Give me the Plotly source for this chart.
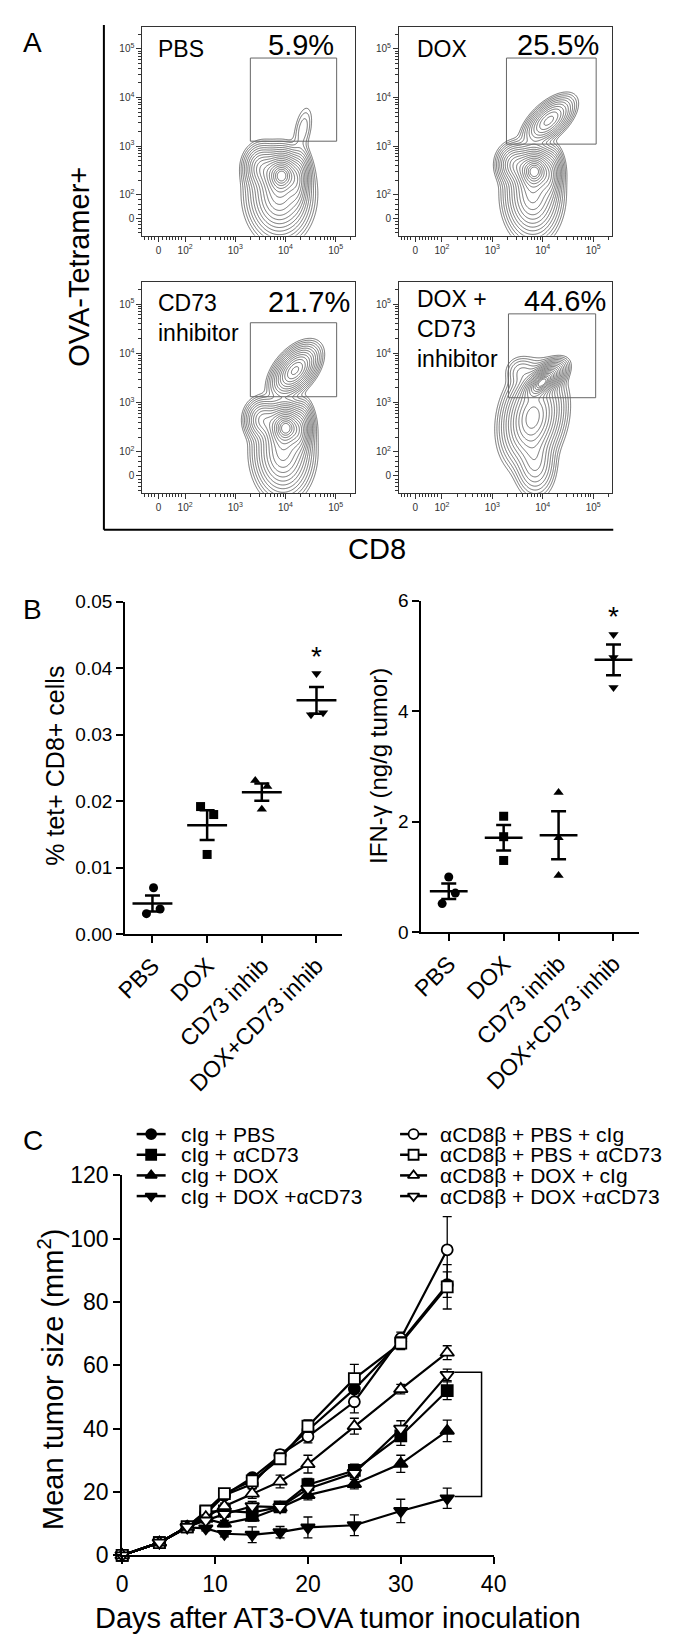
import numpy as np
import plotly.graph_objects as go

W, H = 680, 1641
FONT = "Liberation Sans, Arial, Helvetica, sans-serif"

# ---------------- Panel A: flow cytometry, CD8 vs OVA-tetramer (decade units) ----------------
flow_names = ["PBS", "DOX", "CD73<br>inhibitor", "DOX +<br>CD73<br>inhibitor"]
flow_pct = ["5.9%", "25.5%", "21.7%", "44.6%"]
# populations: (CD8 centre, tetramer centre, spread CD8, spread tet, correlation, weight)
pop_pbs = [(3.93, 2.42, 0.18, 0.20, 0.0, 1.00), (3.88, 2.00, 0.25, 0.36, 0.0, 0.50),
           (3.52, 2.55, 0.15, 0.20, 0.0, 0.25), (4.25, 2.25, 0.10, 0.28, 0.2, 0.25),
           (4.35, 3.35, 0.10, 0.25, 0.4, 0.02)]
pop_dox = [(3.84, 2.50, 0.18, 0.20, 0.0, 1.00), (3.80, 2.00, 0.22, 0.36, 0.0, 0.45),
           (3.45, 2.62, 0.15, 0.18, 0.0, 0.25), (4.15, 2.35, 0.10, 0.25, 0.2, 0.20),
           (4.12, 3.52, 0.20, 0.20, 0.6, 0.35)]
pop_cd73 = [(4.01, 2.51, 0.18, 0.20, 0.0, 1.00), (3.95, 2.00, 0.23, 0.36, 0.0, 0.45),
            (3.55, 2.65, 0.15, 0.18, 0.0, 0.25), (4.30, 2.40, 0.10, 0.25, 0.2, 0.25),
            (4.19, 3.65, 0.19, 0.21, 0.5, 0.55)]
pop_combo = [(4.00, 3.42, 0.17, 0.16, 0.6, 1.00), (3.80, 2.70, 0.24, 0.38, 0.2, 0.55),
             (3.85, 1.80, 0.17, 0.30, 0.0, 0.12), (3.58, 3.62, 0.15, 0.15, 0.0, 0.03)]
flow_pops = [pop_pbs, pop_dox, pop_cd73, pop_combo]
gate_cd8 = [(3.30, 5.02), (3.28, 5.06), (3.30, 5.02), (3.32, 5.05)]
gate_tet = [(3.10, 4.81), (3.04, 4.81), (3.12, 4.62), (3.10, 4.80)]
decade_vals = [1.47, 2, 3, 4, 5]
decade_vals_y = [1.52, 2, 3, 4, 5]
decade_text = ["0", "10<sup>2</sup>", "10<sup>3</sup>", "10<sup>4</sup>", "10<sup>5</sup>"]

# ---------------- Panel B ----------------
groups = ["PBS", "DOX", "CD73 inhib", "DOX+CD73 inhib"]
b_symbols = ["circle", "square", "triangle-up", "triangle-down"]
tet_values = [[0.0070, 0.0031, 0.0038], [0.0192, 0.0180, 0.0120],
              [0.0231, 0.0222, 0.0188], [0.0392, 0.0330, 0.0333]]
tet_jitter = [[0.02, -0.11, 0.14], [-0.12, 0.12, 0.0], [-0.12, 0.10, 0.0], [0.0, -0.10, 0.12]]
ifn_values = [[1.00, 0.52, 0.71], [2.10, 1.73, 1.30], [2.53, 1.71, 1.03], [5.39, 4.97, 4.43]]
ifn_jitter = [[0.0, -0.12, 0.12], [0.0, 0.0, 0.0], [0.0, 0.0, 0.0], [0.0, 0.0, 0.0]]

# ---------------- Panel C ----------------
days = [0, 4, 7, 9, 11, 14, 17, 20, 25, 30, 35]
c_names = ["cIg + PBS", "cIg + \u03b1CD73", "cIg + DOX", "cIg + DOX +\u03b1CD73",
           "\u03b1CD8\u03b2 + PBS + cIg", "\u03b1CD8\u03b2 + PBS + \u03b1CD73",
           "\u03b1CD8\u03b2 + DOX + cIg", "\u03b1CD8\u03b2 + DOX +\u03b1CD73"]
c_means = [
    [0, 4.0, 9.0, 13.5, 19.0, 24.5, 31.5, 39.5, 52.5, 67.5, 85.5],
    [0, 4.0, 9.0, 13.7, 14.0, 13.5, 15.3, 22.3, 26.8, 37.7, 52.0],
    [0, 4.0, 8.8, 11.5, 10.0, 11.8, 15.0, 19.0, 22.5, 28.9, 39.3],
    [0, 4.0, 8.8, 8.5, 6.8, 6.5, 7.3, 8.8, 9.5, 14.0, 18.0],
    [0, 4.0, 9.0, 13.0, 19.0, 22.5, 31.8, 37.5, 48.5, 68.5, 96.5],
    [0, 4.0, 9.0, 14.0, 19.5, 23.5, 30.5, 40.8, 55.8, 67.0, 84.8],
    [0, 4.0, 9.0, 12.0, 15.5, 19.5, 23.3, 28.8, 40.8, 52.5, 64.0],
    [0, 4.0, 9.0, 11.0, 13.0, 15.5, 15.2, 21.0, 26.0, 40.0, 57.0],
]
c_sem = [
    [0, 0.3, 0.5, 0.8, 1.0, 1.2, 1.5, 2.0, 3.0, 2.0, 4.0],
    [0, 0.3, 0.5, 0.8, 1.0, 1.0, 1.2, 2.0, 2.0, 3.0, 2.8],
    [0, 0.3, 0.5, 0.8, 1.0, 1.0, 1.2, 1.5, 1.5, 2.7, 3.4],
    [0, 0.3, 0.5, 0.8, 1.0, 2.5, 1.8, 3.3, 3.3, 3.7, 3.2],
    [0, 0.3, 0.5, 0.8, 1.0, 1.2, 1.5, 2.0, 3.5, 2.0, 10.5],
    [0, 0.3, 0.5, 0.8, 1.0, 1.2, 1.5, 2.0, 4.5, 2.0, 7.0],
    [0, 0.3, 0.5, 0.8, 1.0, 1.5, 2.0, 2.8, 2.5, 1.5, 2.2],
    [0, 0.3, 0.5, 0.8, 1.0, 1.5, 1.5, 2.5, 1.5, 2.5, 1.8],
]
c_symbols = ["circle", "square", "triangle-up", "triangle-down"] * 2
c_open = [False] * 4 + [True] * 4

# =====================================================================
def pxx(v):
    return v / W


def pxy(v):
    return 1 - v / H


fig = go.Figure()
annotations = []
shapes = []


def text(x, y, s, size, xanchor="center", yanchor="middle", angle=0, align="center"):
    annotations.append(dict(x=pxx(x), y=pxy(y), xref="paper", yref="paper", text=s,
                            showarrow=False, font=dict(size=size, family=FONT, color="black"),
                            xanchor=xanchor, yanchor=yanchor, textangle=angle, align=align))


layout = dict(width=W, height=H, margin=dict(l=0, r=0, t=0, b=0), paper_bgcolor="white",
              plot_bgcolor="rgba(0,0,0,0)", showlegend=False,
              font=dict(family=FONT, color="black"))

# ---------- Panel A ----------
A_boxes = [(128, 348, 6, 218), (394, 615, 6, 218), (128, 348, 265, 480), (394, 615, 265, 480)]
gx = np.arange(1.0, 5.6, 0.015)
gy = np.arange(0.6, 5.7, 0.015)
GX, GY = np.meshgrid(gx, gy)

minor_x = [1.2, 1.26, 1.32, 1.38, 1.55, 1.62, 1.68, 1.74, 1.8, 1.86, 1.92]
minor_y = [1.22, 1.3, 1.38, 1.45, 1.6, 1.7, 1.8, 1.9]
for n in (2, 3, 4):
    for k in range(2, 10):
        minor_x.append(n + np.log10(k))
        minor_y.append(n + np.log10(k))
minor_x.append(5 + np.log10(2))
minor_y += [5 + np.log10(2), 5 + np.log10(3)]

DEPTH = 2.6  # decades of density shown by the contour set
for i, (x0, x1, t, b) in enumerate(A_boxes):
    sx = "" if i == 0 else str(i + 1)
    Z = np.zeros_like(GX)
    for cx, cy, ssx, ssy, rho, w in flow_pops[i]:
        dx = (GX - cx) / ssx
        dy = (GY - cy) / ssy
        q = (dx * dx - 2 * rho * dx * dy + dy * dy) / (1 - rho * rho)
        Z += w * np.exp(-0.5 * q)
    L = np.log10(Z + 1e-12)
    R = np.sqrt(np.clip(L.max() - L, 0, None))  # evenly spaced rings
    fig.add_trace(go.Contour(x=gx, y=gy, z=R, xaxis="x" + sx, yaxis="y" + sx,
                             contours=dict(coloring="lines", start=0.2, end=np.sqrt(DEPTH), size=0.08),
                             line=dict(width=0.7, smoothing=1.0),
                             colorscale=[[0, "#383838"], [1, "#383838"]], showscale=False,
                             hoverinfo="skip"))
    axstyle = dict(showline=True, mirror=True, linecolor="#333", linewidth=1.2, ticks="outside",
                   ticklen=5, tickwidth=1, tickcolor="#333", showgrid=False, zeroline=False,
                   tickfont=dict(size=10, color="#333", family=FONT), fixedrange=True)
    layout["xaxis" + sx] = dict(domain=[pxx(x0), pxx(x1)], range=[1.15, 5.38], anchor="y" + sx,
                                tickmode="array", tickvals=decade_vals, ticktext=decade_text,
                                minor=dict(tickmode="array", tickvals=minor_x, ticks="outside",
                                           ticklen=3, tickcolor="#333", tickwidth=1), **axstyle)
    layout["yaxis" + sx] = dict(domain=[pxy(b), pxy(t)], range=[1.16, 5.45], anchor="x" + sx,
                                tickmode="array", tickvals=decade_vals_y, ticktext=decade_text,
                                minor=dict(tickmode="array", tickvals=minor_y, ticks="outside",
                                           ticklen=3, tickcolor="#333", tickwidth=1), **axstyle)
    shapes.append(dict(type="rect", xref="x" + sx, yref="y" + sx, x0=gate_cd8[i][0], x1=gate_cd8[i][1],
                       y0=gate_tet[i][0], y1=gate_tet[i][1], line=dict(color="#666", width=1)))

# A labels
text(142, 13, flow_names[0], 23, "left", "top", align="left")
text(410, 13, flow_names[1], 23, "left", "top", align="left")
text(142, 271, flow_names[2], 23, "left", "top", align="left")
text(410, 267, flow_names[3], 23, "left", "top", align="left")
text(256, 24, flow_pct[0], 29, "left")
text(514, 24, flow_pct[1], 29, "left")
text(256, 286, flow_pct[2], 29, "left")
text(521, 284, flow_pct[3], 29, "left")
text(14, 22, "A", 28)
text(62, 250, "OVA-Tetramer+", 29, angle=-90)
text(371, 537, "CD8", 29)
shapes.append(dict(type="line", xref="paper", yref="paper", x0=pxx(88), x1=pxx(88), y0=pxy(4), y1=pxy(517),
                   line=dict(color="black", width=2)))
shapes.append(dict(type="line", xref="paper", yref="paper", x0=pxx(88), x1=pxx(616), y0=pxy(517), y1=pxy(517),
                   line=dict(color="black", width=2)))

# ---------- Panel B ----------
def b_panel(ax, values, jitter, dom_x, dom_y, yrange, ytickvals, yfmt, mean_len):
    for g in range(4):
        fig.add_trace(go.Scatter(x=[g + j for j in jitter[g]], y=values[g], mode="markers",
                                 marker=dict(symbol=b_symbols[g], size=9, color="black"),
                                 xaxis="x" + ax, yaxis="y" + ax, cliponaxis=False, hoverinfo="skip"))
    means = [float(np.mean(v)) for v in values]
    sems = [float(np.std(v, ddof=1) / np.sqrt(len(v))) for v in values]
    fig.add_trace(go.Scatter(x=list(range(4)), y=means, mode="markers",
                             marker=dict(symbol="line-ew-open", size=mean_len, color="black",
                                         line=dict(width=2.5, color="black")),
                             error_y=dict(type="data", array=sems, width=7.5, thickness=2.5, color="black"),
                             xaxis="x" + ax, yaxis="y" + ax, cliponaxis=False, hoverinfo="skip"))
    common = dict(showline=True, linecolor="black", linewidth=2, ticks="outside", ticklen=7,
                  tickwidth=2, tickcolor="black", showgrid=False, zeroline=False, fixedrange=True)
    layout["xaxis" + ax] = dict(domain=dom_x, range=[-0.5, 3.47], anchor="y" + ax, tickmode="array",
                                tickvals=list(range(4)), ticktext=groups, tickangle=-45,
                                tickfont=dict(size=23, family=FONT, color="black"), **common)
    layout["yaxis" + ax] = dict(domain=dom_y, range=yrange, anchor="x" + ax, tickmode="array",
                                tickvals=ytickvals, tickformat=yfmt,
                                tickfont=dict(size=19, family=FONT, color="black"), **common)


b_panel("5", tet_values, tet_jitter, [pxx(110), pxx(335)], [pxy(928), pxy(590)], [0, 0.05],
        [0, 0.01, 0.02, 0.03, 0.04, 0.05], ".2f", 28.5)
b_panel("6", ifn_values, ifn_jitter, [pxx(417), pxx(643)], [pxy(926), pxy(589)], [0, 6],
        [0, 2, 4, 6], "d", 27)
text(14, 598, "B", 28)
text(37, 757, "% tet+ CD8+ cells", 25, angle=-90)
text(372, 757, "IFN-\u03b3 (ng/g tumor)", 24, angle=-90)
annotations.append(dict(x=3, y=0.0418, xref="x5", yref="y5", text="*", showarrow=False,
                        font=dict(size=28, family=FONT), xanchor="center", yanchor="middle"))
annotations.append(dict(x=3, y=5.72, xref="x6", yref="y6", text="*", showarrow=False,
                        font=dict(size=28, family=FONT), xanchor="center", yanchor="middle"))

# ---------- Panel C ----------
for s in range(8):
    fill = "white" if c_open[s] else "black"
    size = 11 if c_symbols[s] in ("circle", "square") else 12
    fig.add_trace(go.Scatter(x=days, y=c_means[s], mode="lines+markers",
                             line=dict(color="black", width=2.2),
                             marker=dict(symbol=c_symbols[s], size=size, color=fill,
                                         line=dict(color="black", width=1.8)),
                             error_y=dict(type="data", array=c_sem[s], width=4.5, thickness=1.3, color="black"),
                             xaxis="x7", yaxis="y7", cliponaxis=False, hoverinfo="skip"))
ccommon = dict(showline=True, linecolor="black", linewidth=2, ticks="outside", ticklen=7, tickwidth=2,
               tickcolor="black", showgrid=False, zeroline=False, fixedrange=True,
               tickfont=dict(size=23, family=FONT, color="black"))
layout["xaxis7"] = dict(domain=[pxx(107), pxx(492)], range=[0, 40], anchor="y7", tickmode="array",
                        tickvals=[0, 10, 20, 30, 40], **ccommon)
layout["yaxis7"] = dict(domain=[pxy(1559), pxy(1173)], range=[0, 120], anchor="x7", tickmode="array",
                        tickvals=[0, 20, 40, 60, 80, 100, 120], **ccommon)
# significance bracket between the two DOX + aCD73 groups at the last day
top_v = c_means[7][-1] + 0.8
bot_v = c_means[3][-1] + 0.6
shapes.append(dict(type="path", xref="x7", yref="y7",
                   path=f"M 35.8 {top_v} L 38.7 {top_v} L 38.7 {bot_v} L 35.8 {bot_v}",
                   line=dict(color="black", width=1.5)))
annotations.append(dict(x=40.7, y=48, xref="x7", yref="y7", text="*", showarrow=False,
                        font=dict(size=28, family=FONT), xanchor="center", yanchor="middle"))
text(15, 1138, "C", 28)
text(33, 1380, "Mean tumor size (mm<sup>2</sup>)", 29, angle=-90)
text(331, 1623, "Days after AT3-OVA tumor inoculation", 29)

# legend drawn on an overlay pixel axis
leg_rows = [1131, 1152, 1173, 1194]
leg_cols = [(122, 152, 166), (395, 423, 434)]
for s in range(8):
    x0, x1, xt = leg_cols[s // 4]
    yy = leg_rows[s % 4]
    fill = "white" if c_open[s] else "black"
    fig.add_trace(go.Scatter(x=[x0, x1], y=[yy, yy], mode="lines", line=dict(color="black", width=2.5),
                             xaxis="x8", yaxis="y8", hoverinfo="skip"))
    fig.add_trace(go.Scatter(x=[(x0 + x1) / 2], y=[yy], mode="markers",
                             marker=dict(symbol=c_symbols[s], size=10, color=fill,
                                         line=dict(color="black", width=1.8)),
                             xaxis="x8", yaxis="y8", hoverinfo="skip"))
    text(xt, yy, c_names[s], 21, "left")
layout["xaxis8"] = dict(domain=[0, 1], range=[0, W], visible=False, anchor="y8", fixedrange=True)
layout["yaxis8"] = dict(domain=[0, 1], range=[H, 0], visible=False, anchor="x8", fixedrange=True)

layout["annotations"] = annotations
layout["shapes"] = shapes
fig.update_layout(**layout)
fig.write_html("out.html")
